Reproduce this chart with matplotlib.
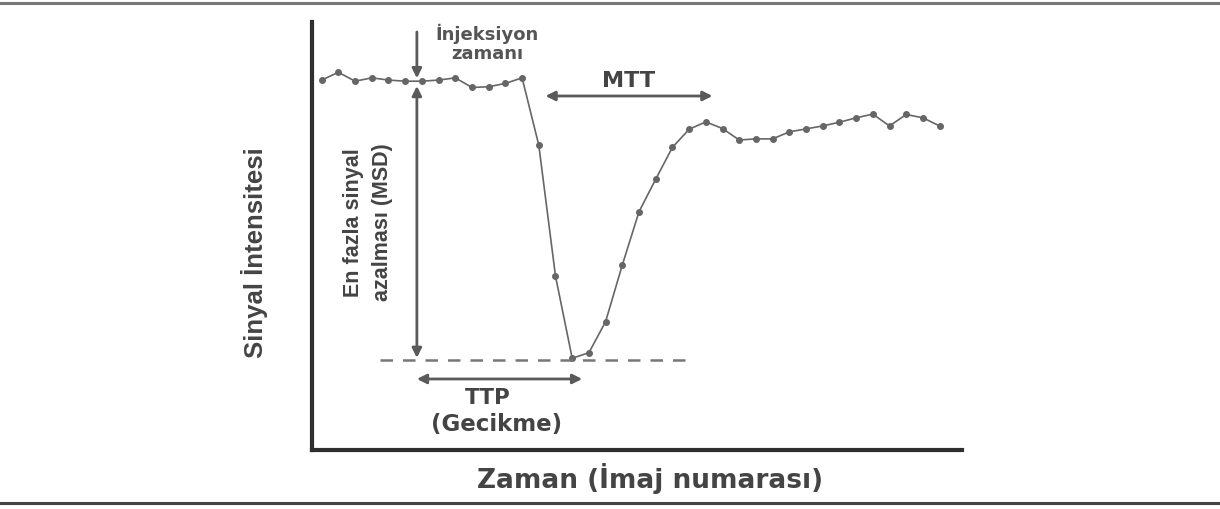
import matplotlib.pyplot as plt
from matplotlib.lines import Line2D

# image number (time) and signal intensity
image_index = list(range(38))
signal = [
    100.0, 102.1, 99.7, 100.6, 100.0, 99.7, 99.7, 100.0, 100.6, 98.0,
    98.2, 99.1, 100.6, 82.4, 47.0, 24.8, 26.3, 34.7, 50.0, 64.4,
    73.2, 81.8, 86.7, 88.7, 86.9, 83.8, 84.1, 84.1, 86.0, 86.8,
    87.6, 88.6, 89.8, 90.8, 87.6, 90.7, 89.8, 87.6,
]

injection_time = 5.7
baseline_level = 98.4
min_level = 24.9
peak_time = 15.6
mtt_start, mtt_end = 13.4, 23.4

TEXT_COLOR = "#444444"
LINE_COLOR = "#666666"
ARROW_COLOR = "#5a5a5a"
NARROW = ["Liberation Sans", "DejaVu Sans"]
WIDE = ["DejaVu Sans"]

fig = plt.figure(figsize=(12.2, 5.09), dpi=100)
fig.patch.set_facecolor("white")
axes = fig.add_axes([312 / 1220, 59 / 509, 650 / 1220, 428 / 509])
axes.set_facecolor("white")

axes.plot(image_index, signal, color=LINE_COLOR, linewidth=1.2,
          marker="o", markersize=4, markerfacecolor=LINE_COLOR,
          markeredgecolor=LINE_COLOR)

axes.set_xlim(-0.58, 38.34)
axes.set_ylim(0, 115.7)
axes.set_xticks([])
axes.set_yticks([])
for side in ["top", "right"]:
    axes.spines[side].set_visible(False)
for side in ["left", "bottom"]:
    axes.spines[side].set_linewidth(3.0)
    axes.spines[side].set_color("#2e2e2e")

# dashed line at the minimum
axes.plot([3.5, 21.75], [24.3, 24.3], color="#777777", linewidth=1.8,
          linestyle=(0, (5, 4)))

arrow_style = dict(arrowstyle="-|>", color=ARROW_COLOR, linewidth=2.0,
                   mutation_scale=14, shrinkA=0, shrinkB=0)
double_style = dict(arrowstyle="<|-|>", color=ARROW_COLOR, linewidth=2.0,
                    mutation_scale=14, shrinkA=0, shrinkB=0)

# injection arrow
axes.annotate("", xy=(injection_time, 100.5), xytext=(injection_time, 113),
              arrowprops=arrow_style, annotation_clip=False)
axes.text(9.9, 110.0, "İnjeksiyon\nzamanı", ha="center", va="center",
          fontsize=13, fontweight="bold", color="#555555", family=WIDE,
          linespacing=1.1, clip_on=False)

# maximum signal drop
axes.annotate("", xy=(injection_time, min_level), xytext=(injection_time, baseline_level),
              arrowprops=double_style)
axes.text(2.77, 61.6, "En fazla sinyal\nazalması (MSD)", rotation=90,
          ha="center", va="center", fontsize=15.5, fontweight="bold",
          color=TEXT_COLOR, family=NARROW, linespacing=1.45)

# time to peak
axes.annotate("", xy=(peak_time, 19.2), xytext=(injection_time, 19.2),
              arrowprops=double_style)
axes.text(9.96, 14.0, "TTP", ha="center", va="center", fontsize=15.5,
          fontweight="bold", color=TEXT_COLOR, family=WIDE)
axes.text(10.5, 6.8, "(Gecikme)", ha="center", va="center", fontsize=16.5,
          fontweight="bold", color=TEXT_COLOR, family=WIDE)

# mean transit time
axes.annotate("", xy=(mtt_end, 95.7), xytext=(mtt_start, 95.7),
              arrowprops=double_style)
axes.text(18.35, 99.7, "MTT", ha="center", va="center", fontsize=16,
          fontweight="bold", color=TEXT_COLOR, family=WIDE)

fig.text(255 / 1220, 1 - 253 / 509, "Sinyal İntensitesi", rotation=90,
         ha="center", va="center", fontsize=18.5, fontweight="bold",
         color=TEXT_COLOR, family=NARROW)
fig.text(650 / 1220, 1 - 479 / 509, "Zaman (İmaj numarası)",
         ha="center", va="center", fontsize=19, fontweight="bold",
         color=TEXT_COLOR, family=WIDE)

# page rules of the scanned figure
fig.add_artist(Line2D([0, 1], [1 - 3 / 509, 1 - 3 / 509], color="#777777",
                      linewidth=2.2, transform=fig.transFigure))
fig.add_artist(Line2D([0, 1], [1 - 503 / 509, 1 - 503 / 509], color="#444444",
                      linewidth=2.2, transform=fig.transFigure))

fig.savefig("out.png", dpi=100, facecolor="white")
